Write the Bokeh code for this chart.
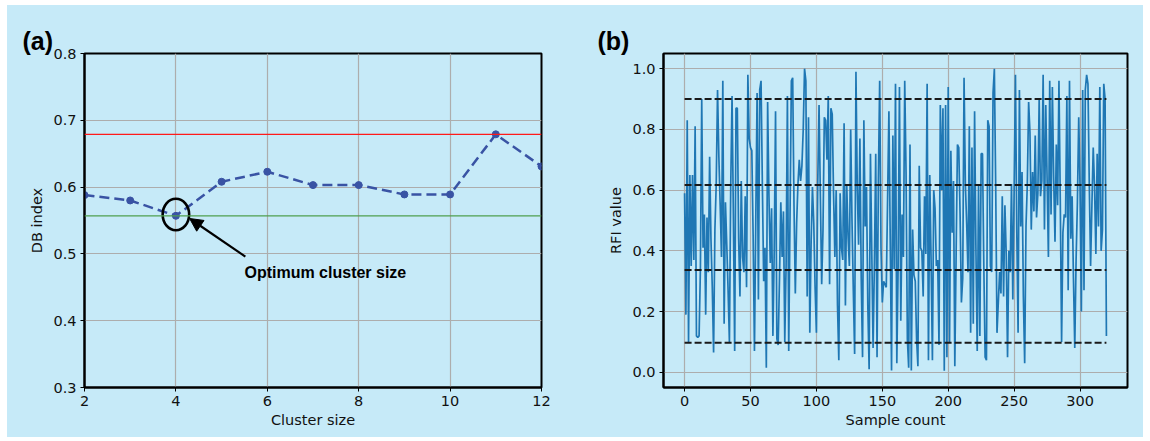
from bokeh.plotting import figure
from bokeh.layouts import row
from bokeh.models import (Label, Arrow, NormalHead, Span, Range1d, FixedTicker,
                          Title, PrintfTickFormatter)
from bokeh.embed import file_html
from bokeh.resources import INLINE

# ---------------- data ----------------
cluster_size = [2, 3, 4, 5, 6, 7, 8, 9, 10, 11, 12]
db_index = [0.588, 0.580, 0.557, 0.608, 0.623, 0.603, 0.603, 0.589, 0.589, 0.679, 0.631]
red_level = 0.679
green_level = 0.557
optimum_size = 4
optimum_db = 0.559
annotation_text = "Optimum cluster size"

rfi_values = [
    0.59, 0.19, 0.83, 0.10, 0.65, 0.35, 0.65, 0.37, 0.81, 0.12,
    0.115, 0.12, 0.34, 0.90, 0.41, 0.52, 0.19, 0.51, 0.33, 0.71,
    0.44, 0.28, 0.065, 0.47, 0.62, 0.93, 0.71, 0.55, 0.38, 0.96,
    0.16, 0.56, 0.42, 0.27, 0.10, 0.61, 0.91, 0.52, 0.07, 0.87,
    0.87, 0.44, 0.25, 0.63, 0.38, 0.33, 0.58, 0.28, 0.98, 0.77,
    0.74, 0.73, 0.45, 0.07, 0.50, 0.92, 0.24, 0.93, 0.96, 0.62,
    0.30, 0.41, 0.015, 0.89, 0.58, 0.36, 0.54, 0.12, 0.40, 0.86,
    0.11, 0.09, 0.31, 0.56, 0.38, 0.53, 0.10, 0.35, 0.91, 0.07,
    0.52, 0.96, 0.97, 0.55, 0.26, 0.49, 0.62, 0.70, 0.63, 0.68,
    0.80, 1.00, 0.96, 0.25, 0.84, 0.13, 0.43, 0.61, 0.49, 0.28,
    0.13, 0.62, 0.88, 0.58, 0.29, 0.47, 0.84, 0.83, 0.70, 0.91,
    0.29, 0.87, 0.85, 0.59, 0.38, 0.60, 0.22, 0.04, 0.59, 0.41,
    0.37, 0.82, 0.22, 0.62, 0.45, 0.35, 0.80, 0.50, 0.27, 0.06,
    0.99, 0.61, 0.42, 0.77, 0.31, 0.05, 0.83, 0.48, 0.61, 0.22,
    0.01, 0.72, 0.40, 0.08, 0.36, 0.72, 0.05, 0.63, 0.96, 0.41,
    0.23, 0.30, 0.29, 0.28, 0.57, 0.86, 0.44, 0.006, 0.78, 0.34,
    0.95, 0.03, 0.35, 0.94, 0.17, 0.52, 0.38, 0.96, 0.66, 0.11,
    0.015, 0.75, 0.006, 0.47, 0.32, 0.30, 0.11, 0.02, 0.68, 0.41,
    0.40, 0.25, 0.58, 0.39, 0.95, 0.04, 0.65, 0.37, 0.04, 0.60,
    0.54, 0.35, 0.37, 0.09, 0.88, 0.60, 0.87, 0.005, 0.88, 0.05,
    0.94, 0.10, 0.73, 0.46, 0.63, 0.02, 0.39, 0.75, 0.74, 0.52,
    0.23, 0.31, 0.97, 0.62, 0.49, 0.33, 0.81, 0.13, 0.74, 0.16,
    0.86, 0.41, 0.07, 0.62, 0.12, 0.72, 0.72, 0.35, 0.05, 0.04,
    0.83, 0.81, 0.35, 0.33, 0.92, 1.00, 0.62, 0.13, 0.23, 0.33,
    0.26, 0.58, 0.25, 0.55, 0.39, 0.05, 0.40, 0.33, 0.62, 0.24,
    0.60, 0.98, 0.47, 0.13, 0.93, 0.48, 0.66, 0.25, 0.03, 0.48,
    0.62, 0.89, 0.79, 0.47, 0.66, 0.53, 0.78, 0.51, 0.59, 0.90,
    0.58, 0.63, 0.98, 0.47, 0.88, 0.64, 0.38, 0.96, 0.52, 0.94,
    0.64, 0.43, 0.75, 0.55, 0.96, 0.57, 0.10, 0.46, 0.52, 0.51,
    0.91, 0.27, 0.96, 0.44, 0.58, 0.31, 0.08, 0.37, 0.56, 0.84,
    0.61, 0.20, 0.93, 0.27, 0.93, 0.98, 0.95, 0.62, 0.35, 0.55,
    0.74, 0.61, 0.39, 0.72, 0.48, 0.94, 0.40, 0.47, 0.95, 0.90,
    0.12,
]
sample_count = list(range(len(rfi_values)))
threshold_levels = [0.900, 0.617, 0.337, 0.097]

x_ticks_a = [2, 4, 6, 8, 10, 12]
y_ticks_a = [0.3, 0.4, 0.5, 0.6, 0.7, 0.8]
x_ticks_b = [0, 50, 100, 150, 200, 250, 300]
y_ticks_b = [0.0, 0.2, 0.4, 0.6, 0.8, 1.0]

# ---------------- styling ----------------
BG = "#c6eaf8"
TICK_FONT = "DejaVu Sans"
LABEL_FONT = "Liberation Sans"
FS = "14.5px"


def style(p, xlabel, ylabel, xticks, yticks):
    p.background_fill_color = BG
    p.border_fill_color = BG
    p.outline_line_color = "black"
    p.outline_line_width = 2
    p.xaxis.axis_label = xlabel
    p.yaxis.axis_label = ylabel
    p.xaxis.ticker = FixedTicker(ticks=xticks)
    p.yaxis.ticker = FixedTicker(ticks=yticks)
    for ax in (p.xaxis[0], p.yaxis[0]):
        ax.axis_line_color = "black"
        ax.axis_line_width = 2
        ax.major_tick_line_color = "black"
        ax.major_tick_out = 4
        ax.major_tick_in = 0
        ax.minor_tick_line_color = None
        ax.major_label_text_font = TICK_FONT
        ax.major_label_text_font_size = FS
        ax.major_label_text_color = "#111111"
        ax.axis_label_text_font = TICK_FONT
        ax.axis_label_text_font_size = FS
        ax.axis_label_text_font_style = "normal"
        ax.axis_label_text_color = "#111111"
    p.xaxis.major_label_standoff = 4
    p.yaxis.major_label_standoff = 4
    p.xaxis.axis_label_standoff = 3
    p.yaxis.axis_label_standoff = 5
    p.grid.grid_line_color = "#adadad"
    p.grid.grid_line_width = 1.2
    p.xgrid.ticker = FixedTicker(ticks=xticks)
    p.ygrid.ticker = FixedTicker(ticks=yticks)


def panel_title(text, offset):
    return Title(text=text, align="left", offset=offset, standoff=-3,
                 text_font=LABEL_FONT, text_font_style="bold",
                 text_font_size="25px", text_color="black")


# ---------------- panel (a) ----------------
pa = figure(width=568, height=432, output_backend="svg", toolbar_location=None,
            x_range=Range1d(2, 12), y_range=Range1d(0.3, 0.8),
            min_border_left=77, min_border_right=34, min_border_top=48, min_border_bottom=50)
style(pa, "Cluster size", "DB index", x_ticks_a, y_ticks_a)
pa.title = panel_title("(a)", -62)

pa.add_layout(Span(location=red_level, dimension="width", line_color="#ff1a1a", line_width=1.2))
pa.add_layout(Span(location=green_level, dimension="width", line_color="#4f9f4f", line_width=1.2))
pa.line(cluster_size, db_index, line_color="#3953a4", line_width=2.5, line_dash="10 5")
pa.scatter(cluster_size, db_index, size=7, fill_color="#3953a4", line_color="#3953a4")
pa.ellipse(x=[optimum_size], y=[optimum_db], width=0.58, height=0.047,
           fill_color=None, line_color="black", line_width=2.6)
pa.add_layout(Arrow(end=NormalHead(size=13, fill_color="black", line_color="black"),
                    x_start=5.52, y_start=0.496, x_end=4.30, y_end=0.553,
                    line_color="black", line_width=2.2))
pa.add_layout(Label(x=5.50, y=0.472, text=annotation_text, text_font=LABEL_FONT,
                    text_font_style="bold", text_font_size="16px", text_color="black",
                    text_baseline="alphabetic"))

# ---------------- panel (b) ----------------
pb = figure(width=568, height=432, output_backend="svg", toolbar_location=None,
            x_range=Range1d(-16, 336), y_range=Range1d(-0.05, 1.05),
            min_border_left=88, min_border_right=16, min_border_top=44, min_border_bottom=48)
style(pb, "Sample count", "RFI value", x_ticks_b, y_ticks_b)
pb.yaxis.formatter = PrintfTickFormatter(format="%.1f")
pb.title = panel_title("(b)", -66)

pb.line(sample_count, rfi_values, line_color="#1f77b4", line_width=1.7)
n = len(threshold_levels)
pb.segment(x0=[sample_count[0]] * n, x1=[sample_count[-1]] * n,
           y0=threshold_levels, y1=threshold_levels,
           line_color="#1a1a1a", line_width=2, line_dash="7 3")

layout = row(pa, pb, margin=(5, 7, 4, 7), styles={"background-color": BG})
open("out.html", "w").write(file_html(layout, INLINE))
